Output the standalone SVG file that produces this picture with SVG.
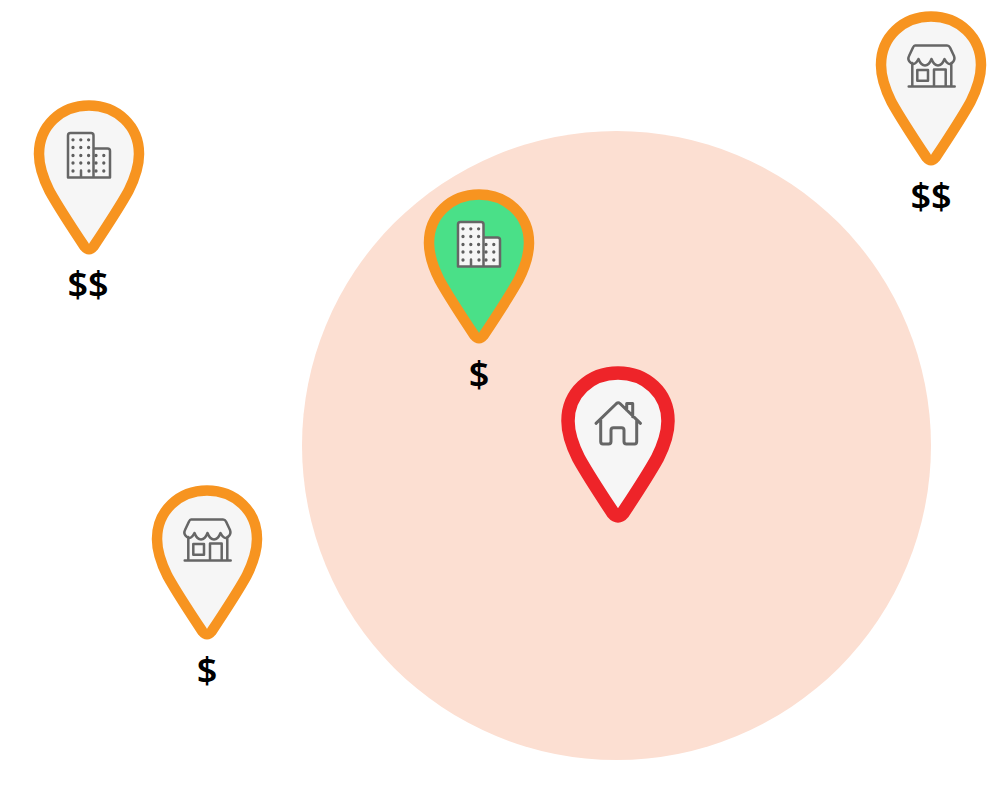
<svg xmlns="http://www.w3.org/2000/svg" xmlns:xlink="http://www.w3.org/1999/xlink" width="1000" height="785" viewBox="0 0 1000 785">
<style>
.pin{stroke-linejoin:round}
.orange{stroke:#f79420;stroke-width:10.5}
.red{stroke:#ee2429;stroke-width:13.5}
.gray{fill:#f6f6f6}
.green{fill:#4ae088}
.icon{fill:none;stroke:#666;stroke-width:2.5;stroke-linecap:round;stroke-linejoin:round}
.bld{fill:#f6f6f6}
.h{stroke-width:3}
.dots{fill:none;stroke:#5f5f5f;stroke-width:3.300;stroke-linecap:round;stroke-dasharray:0 7.800}
.price{font-family:"Noto Sans","Open Sans",sans-serif;font-weight:600;font-size:36px;text-anchor:middle;fill:#000}
</style>
<defs>
<path id="pinShape" d="M0,5.500C28,5.500 50,26 50,54C50,67 45,80 39.500,91C29.500,109 17.500,127 4.500,146.500Q0,152 -4.500,146.500C-17.500,127 -29.500,109 -39.500,91C-45,80 -50,67 -50,54C-50,26 -28,5.500 0,5.500Z"/>
<g id="building">
<path class="icon bld" d="M-21,77.500V35.500Q-21,33 -18.500,33H2Q4.500,33 4.500,35.500V48.500H18.500Q21,48.500 21,51V77.500ZM4.500,48.500V77.500M-8,77.500V70.500"/>
<path class="dots" d="M-16,39.800H3M-16,47.500H3M-16,55.500H3M-16,63H3M-16,71H-8.500M0,71H3M7,55.500H15M7,63H15M7,71H15"/>
</g>
<g id="store">
<path class="icon" d="M-16,34.500H16Q18,34.500 19,36.500L23,45Q24.500,49 21,52Q17,55 13.500,48Q11,54.500 7,54.500Q3,54.500 0.500,48Q-2,54.500 -6,54.500Q-10,54.500 -12.500,48Q-16,55 -20,52Q-24,49 -22,45L-18,36.500Q-17,34.500 -16,34.500ZM-18.700,52V75.500M20.300,52V75.500M-22.300,75.500H23.700M-13.700,59H-3V69.700H-13.700ZM3,75.500V58.500H14.700V75.500"/>
</g>
</defs>
<circle id="zone" cx="616.500" cy="445.500" r="314.500" fill="#fcdfd2"/>
<g id="pin-office-left">
<g transform="translate(89,100)"><use xlink:href="#pinShape" href="#pinShape" class="pin orange gray"/><use xlink:href="#building" href="#building"/></g>
<text class="price" x="88" y="297">$$</text>
</g>
<g id="pin-store-right">
<g transform="translate(931,11)"><use xlink:href="#pinShape" href="#pinShape" class="pin orange gray"/><use xlink:href="#store" href="#store"/></g>
<text class="price" x="931" y="209">$$</text>
</g>
<g id="pin-office-green">
<g transform="translate(479,189)"><use xlink:href="#pinShape" href="#pinShape" class="pin orange green"/><use xlink:href="#building" href="#building"/></g>
<text class="price" x="479" y="387">$</text>
</g>
<g id="pin-store-left">
<g transform="translate(207,485)"><use xlink:href="#pinShape" href="#pinShape" class="pin orange gray"/><use xlink:href="#store" href="#store"/></g>
<text class="price" x="207" y="683">$</text>
</g>
<g id="pin-home">
<path class="pin red gray" transform="translate(618,366)" d="M0,7C28,7 50,27 50,55C50,68 45,81 39.500,92C29.500,110 17.500,128 5,147Q0,153 -5,147C-17.500,128 -29.500,110 -39.500,92C-45,81 -50,68 -50,55C-50,27 -28,7 0,7Z"/>
<path class="icon h" d="M596,423.300L616.500,403.500Q618.300,402 620,403.500L640.500,423.300M600.700,420V441.500Q600.700,444 603,444H608.500Q611,444 611,441.500V430Q611,427.700 613.500,427.700H621.500Q624,427.700 624,430V441.500Q624,444 626.500,444H634.500Q636.700,444 636.700,441.500V420M626.700,410V403.500H632.700V416.700"/>
</g>
<g id="connectors"/>
</svg>
